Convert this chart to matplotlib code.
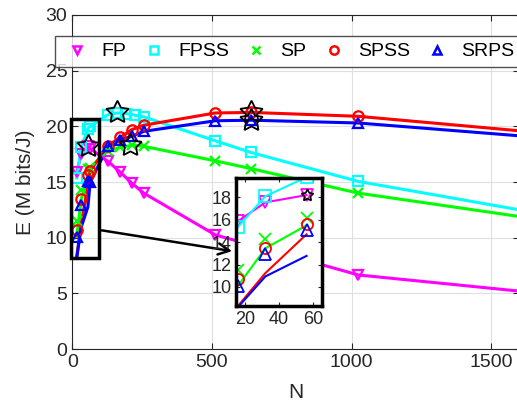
import numpy as np
import matplotlib.pyplot as plt
from matplotlib.patches import Rectangle

plt.rcParams['font.family'] = ['Liberation Sans', 'DejaVu Sans']

# --- data ---
N_main = [16, 32, 56, 64, 128, 171, 213, 256, 512, 640, 1024, 1600]
N_fpss = [16, 32, 56, 64, 128, 160, 192, 224, 256, 512, 640, 1024, 1600]
N_small = [16, 32, 56]

# curves (line values)
E_fp = [15.87, 17.55, 18.2, 18.0, 16.85, 15.9, 14.9, 14.0, 10.25, 9.35, 6.65, 5.2]
E_fpss = [15.36, 18.1, 19.8, 20.0, 21.05, 21.2, 21.15, 21.0, 20.85, 18.7, 17.65, 15.05, 12.5]
E_sp = [10.1, 13.45, 15.5, 16.3, 17.8, 18.1, 18.3, 18.2, 16.9, 16.2, 14.0, 11.9]
E_spss = [8.3, 11.24, 14.7, 16.0, 18.25, 19.0, 19.7, 20.1, 21.2, 21.25, 20.9, 19.6]
E_srps = [8.2, 10.94, 12.77, 15.0, 18.2, 18.8, 19.1, 19.55, 20.5, 20.55, 20.3, 19.15]

# markers at small N (differ from the curves)
M_fp = [15.87, 17.55, 18.2]
M_fpss = [15.36, 18.1, 19.8]
M_sp = [11.5, 14.27, 16.16]
M_spss = [10.7, 13.5, 15.66]
M_srps = [10.05, 12.95, 15.07]

# maxima (stars)
star_N = [56, 160, 205, 640, 640]
star_E = [18.2, 21.25, 18.3, 21.25, 20.55]

labels = ['FP', 'FPSS', 'SP', 'SPSS', 'SRPS']
colors = ['#ff00ff', '#00ffff', '#00ff00', '#ff0000', '#0000ff']
markers = ['v', 's', 'x', 'o', '^']

series = [
    (N_main, E_fp, M_fp),
    (N_fpss, E_fpss, M_fpss),
    (N_main, E_sp, M_sp),
    (N_main, E_spss, M_spss),
    (N_main, E_srps, M_srps),
]

txt = '#262626'
fig = plt.figure(figsize=(5.17, 4.12), dpi=100)
ax = fig.add_axes([0.1398, 0.1529, 0.8646, 0.8107])

for (n, e, m), c, mk in zip(series, colors, markers):
    ax.plot(n, e, color=c, lw=2.2, zorder=3)
    ax.plot(n[3:-1], e[3:-1], ls='none', marker=mk, color=c, mfc='none',
            ms=7.5, mew=1.6, zorder=4)
    ax.plot(N_small, m, ls='none', marker=mk, color=c, mfc='none',
            ms=7.5, mew=1.6, zorder=4)

ax.plot(star_N, star_E, ls='none', marker=(5, 1, 0), ms=17, mfc='none',
        mec='k', mew=1.3, zorder=5)

ax.set_xlim(0, 1600)
ax.set_ylim(0, 30)
ax.set_xticks([0, 500, 1000, 1500])
ax.set_yticks([0, 5, 10, 15, 20, 25, 30])
ax.grid(True, color='#dfdfdf', lw=0.8)
ax.set_axisbelow(True)
ax.tick_params(direction='in', top=True, right=True, labelsize=14,
               colors=txt, length=4)
for s in ax.spines.values():
    s.set_color(txt)
    s.set_linewidth(0.8)
ax.set_xlabel('N', fontsize=15, color=txt, labelpad=9)
ax.set_ylabel('E (M bits/J)', fontsize=15, color=txt, labelpad=8)

# zoom box and arrow
ax.add_patch(Rectangle((-5, 8.2), 100, 12.5, fill=False, ec='k', lw=2.5,
                       clip_on=False, zorder=6))
ax.annotate('', xy=(582, 8.75), xytext=(95, 10.7),
            arrowprops=dict(arrowstyle='->', lw=1.8, color='k',
                            mutation_scale=20), zorder=6)

handles = [plt.Line2D([], [], ls='none', marker=mk, color=c, mfc='none',
                      ms=6, mew=1.8) for c, mk in zip(colors, markers)]
leg = ax.legend(handles, labels, ncol=5, loc='upper left',
                bbox_to_anchor=(0.1064, 0.9126), bbox_transform=fig.transFigure,
                fontsize=14, frameon=True, fancybox=False, borderaxespad=0,
                handletextpad=0.45, columnspacing=0.6, handlelength=1.6,
                borderpad=0.35)
leg.get_frame().set_edgecolor(txt)
leg.get_frame().set_linewidth(1.0)
leg.set_zorder(10)

# inset
axi = fig.add_axes([0.457, 0.2573, 0.1658, 0.31])
for (n, e, m), c, mk in zip(series, colors, markers):
    axi.plot(n[:3], e[:3], color=c, lw=1.5)
    axi.plot(N_small, m, ls='none', marker=mk, color=c, mfc='none',
             ms=8, mew=1.3)
axi.plot(star_N[0], star_E[0], ls='none', marker=(5, 1, 0), ms=9,
         mfc='none', mec='k', mew=1.2)
axi.set_xlim(15, 65)
axi.set_ylim(8.3, 19.7)
axi.set_xticks([20, 40, 60])
axi.set_yticks([10, 12, 14, 16, 18])
axi.tick_params(direction='in', top=True, right=True, labelsize=13,
                colors=txt, length=3)
for s in axi.spines.values():
    s.set_color('k')
    s.set_linewidth(2.5)

fig.savefig('out.png', dpi=100)
